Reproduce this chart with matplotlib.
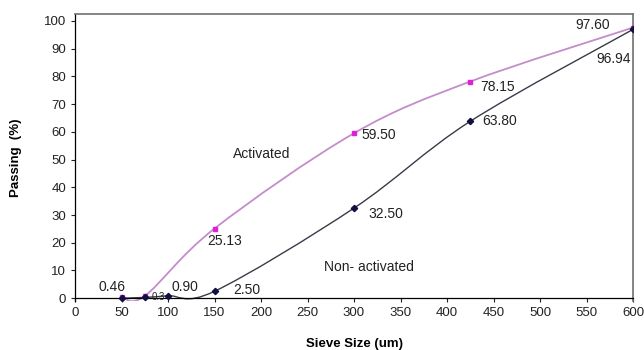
import matplotlib
matplotlib.use("Agg")
import matplotlib.pyplot as plt
from matplotlib.path import Path
from matplotlib.patches import PathPatch
import numpy as np

plt.rcParams['font.family'] = ['Liberation Sans', 'DejaVu Sans']

# Data
act_x = [50, 75, 150, 300, 425, 600]
act_y = [0.46, 0.80, 25.13, 59.50, 78.15, 97.60]
act_labels = ["0.46", "", "25.13", "59.50", "78.15", "97.60"]

non_x = [50, 75, 100, 150, 300, 425, 600]
non_y = [0.0, 0.30, 0.90, 2.50, 32.50, 63.80, 96.94]
non_labels = ["", "0.3", "0.90", "2.50", "32.50", "63.80", "96.94"]

x_ticks = list(range(0, 601, 50))
y_ticks = list(range(0, 101, 10))


def smooth_path(xs, ys):
    pts = np.column_stack([xs, ys]).astype(float)
    n = len(pts)
    verts = [pts[0]]
    codes = [Path.MOVETO]
    for i in range(n - 1):
        p0 = pts[i - 1] if i > 0 else pts[i]
        p1 = pts[i]
        p2 = pts[i + 1]
        p3 = pts[i + 2] if i + 2 < n else pts[i + 1]
        c1 = p1 + (p2 - p0) / 6.0
        c2 = p2 - (p3 - p1) / 6.0
        verts += [c1, c2, p2]
        codes += [Path.CURVE4] * 3
    return Path(verts, codes)


fig = plt.figure(figsize=(6.44, 3.5), dpi=100)
ax = fig.add_axes([75 / 644, 49 / 350, (633 - 75) / 644, 287 / 350])

ax.add_patch(PathPatch(smooth_path(act_x, act_y), fill=False,
                       edgecolor='#c58ccc', lw=1.3, zorder=2))
ax.add_patch(PathPatch(smooth_path(non_x, non_y), fill=False,
                       edgecolor='#3a3a48', lw=1.0, zorder=2))

ax.plot(act_x, act_y, ls='none', marker='s', ms=3.2, color='#e020d8', zorder=3)
ax.plot(non_x, non_y, ls='none', marker='D', ms=3.2, color='#101040', zorder=3)

act_off = [(-7, 7), None, (7, -9), (18, -1), (20, -4), (-29, 2)]
non_off = [None, (10, 0), (12, 6), (23, 1), (23, -4), (21, 0), (-14, -21)]

for x, y, t, off in zip(act_x, act_y, act_labels, act_off):
    if t and off:
        ax.annotate(t, (x, y), xytext=off, textcoords='offset points',
                    ha='center', va='center', fontsize=10, color='#222222')
for x, y, t, off in zip(non_x, non_y, non_labels, non_off):
    if t and off:
        fs = 7 if t == "0.3" else 10
        ax.annotate(t, (x, y), xytext=off, textcoords='offset points',
                    ha='center', va='center', fontsize=fs, color='#222222')

ax.text(201, 52, "Activated", ha='center', va='center', fontsize=10, color='#222222')
ax.text(316, 11.2, "Non- activated", ha='center', va='center', fontsize=10, color='#222222')

ax.set_xlim(0, 600)
ax.set_ylim(-1, 102.5)
ax.spines['bottom'].set_position(('data', 0))
ax.set_xticks(x_ticks)
ax.set_yticks(y_ticks)
ax.tick_params(axis='both', labelsize=9.5, colors='#222222', direction='out', length=3, width=0.8)
for s in ['left', 'bottom']:
    ax.spines[s].set_color('#000000')
    ax.spines[s].set_linewidth(0.9)
for s in ['top', 'right']:
    ax.spines[s].set_color('#707070')
    ax.spines[s].set_linewidth(1.2)

ax.set_xlabel("Sieve Size (um)", fontsize=9.5, fontweight='bold')
ax.set_ylabel("Passing  (%)", fontsize=9.5, fontweight='bold')
ax.xaxis.set_label_coords(0.5, -0.13)
ax.yaxis.set_label_coords(-0.095, 0.5)

fig.savefig("out.png", dpi=100)
